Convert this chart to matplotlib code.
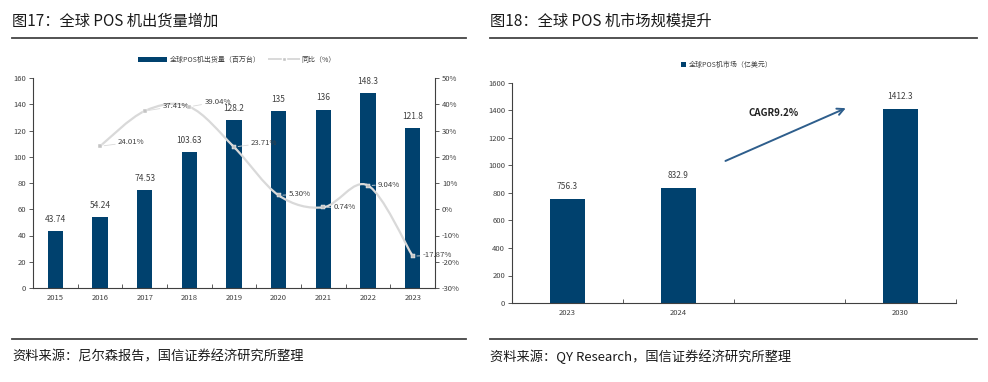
import numpy as np
import matplotlib
matplotlib.use("Agg")
import matplotlib.pyplot as plt
from matplotlib.path import Path
from matplotlib.patches import PathPatch, Patch
from matplotlib.lines import Line2D
from matplotlib.ticker import FuncFormatter

plt.rcParams['font.family'] = ['Noto Sans CJK SC', 'DejaVu Sans']
plt.rcParams['axes.unicode_minus'] = False

# ---- data: figure 17 ----
years17 = ['2015', '2016', '2017', '2018', '2019', '2020', '2021', '2022', '2023']
shipments = [43.74, 54.24, 74.53, 103.63, 128.2, 135, 136, 148.3, 121.8]
ship_labels = ['43.74', '54.24', '74.53', '103.63', '128.2', '135', '136', '148.3', '121.8']
yoy_years = ['2016', '2017', '2018', '2019', '2020', '2021', '2022', '2023']
yoy = [24.01, 37.41, 39.04, 23.71, 5.30, 0.74, 9.04, -17.87]

# ---- data: figure 18 ----
years18 = ['2023', '2024', '', '2030']
market = [756.3, 832.9, np.nan, 1412.3]
market_labels = ['756.3', '832.9', '', '1412.3']

NAVY = '#00416E'
GRAY_TXT = '#404040'
LINE_GRAY = '#D9D9D9'

W, H = 988, 382
fig = plt.figure(figsize=(W / 100, H / 100), dpi=100)


def px_axes(x0, y0, x1, y1):
    # pixel box (top-left origin) -> figure axes
    return fig.add_axes([x0 / W, 1 - y1 / H, (x1 - x0) / W, (y1 - y0) / H])


def style_axis(ax):
    for s in ['top', 'right']:
        ax.spines[s].set_visible(False)
    for s in ['left', 'bottom']:
        ax.spines[s].set_color('#404040')
        ax.spines[s].set_linewidth(0.8)
    ax.tick_params(axis='y', direction='out', length=3, width=0.6,
                   labelsize=5.5, colors='#404040', labelcolor=GRAY_TXT, pad=2)
    ax.tick_params(axis='x', which='major', length=0, labelsize=5.5,
                   labelcolor=GRAY_TXT, pad=4)
    ax.tick_params(axis='x', which='minor', direction='in', length=3, width=0.6,
                   colors='#404040')


def smooth_path(xs, ys, t=0.5):
    # catmull-rom style bezier through the points (drawing only)
    xs = np.asarray(xs, float)
    ys = np.asarray(ys, float)
    verts = [(xs[0], ys[0])]
    codes = [Path.MOVETO]
    n = len(xs)
    for i in range(n - 1):
        x0, y0 = (xs[i - 1], ys[i - 1]) if i > 0 else (xs[i], ys[i])
        x3, y3 = (xs[i + 2], ys[i + 2]) if i + 2 < n else (xs[i + 1], ys[i + 1])
        x1, y1 = xs[i], ys[i]
        x2, y2 = xs[i + 1], ys[i + 1]
        c1 = (x1 + (x2 - x0) * t / 3, y1 + (y2 - y0) * t / 3)
        c2 = (x2 - (x3 - x1) * t / 3, y2 - (y3 - y1) * t / 3)
        verts += [c1, c2, (x2, y2)]
        codes += [Path.CURVE4] * 3
    return Path(verts, codes)


# ================= figure 17 =================
fig.text(12 / W, 1 - 21 / H, '图17：全球 POS 机出货量增加', fontsize=11,
         color='#1a1a1a', va='center', ha='left')
fig.add_artist(Line2D([12 / W, 466 / W], [1 - 38 / H] * 2, color='#444444', lw=1.3))
fig.add_artist(Line2D([12 / W, 466 / W], [1 - 339 / H] * 2, color='#444444', lw=1.3))
fig.text(12 / W, 1 - 357 / H, '资料来源：尼尔森报告，国信证券经济研究所整理', fontsize=9.5,
         color='#1a1a1a', va='center', ha='left')

ax1 = px_axes(33, 78, 435, 288)
x17 = np.arange(len(years17))
ax1.bar(x17, shipments, width=0.34, color=NAVY, zorder=2)
for xi, v, lab in zip(x17, shipments, ship_labels):
    ax1.annotate(lab, (xi, v), xytext=(0, 7), textcoords='offset pixels',
                 ha='center', va='bottom', fontsize=6, color=GRAY_TXT)
ax1.set_xlim(-0.5, len(years17) - 0.5)
ax1.set_ylim(0, 160)
ax1.set_yticks(np.arange(0, 161, 20))
ax1.set_xticks(x17)
ax1.set_xticklabels(years17)
ax1.set_xticks(np.arange(-0.5, len(years17), 1), minor=True)
style_axis(ax1)

ax1r = ax1.twinx()
ax1r.set_ylim(-30, 50)
ax1r.set_yticks(np.arange(-30, 51, 10))
ax1r.yaxis.set_major_formatter(FuncFormatter(lambda v, p: f'{v:.0f}%'))
for s in ['top', 'left', 'bottom']:
    ax1r.spines[s].set_visible(False)
ax1r.spines['right'].set_color('#404040')
ax1r.spines['right'].set_linewidth(0.8)
ax1r.tick_params(axis='y', direction='out', length=3, width=0.6, labelsize=5.5,
                 colors='#404040', labelcolor=GRAY_TXT, pad=2)

xy = np.array([years17.index(y) for y in yoy_years])
ax1r.add_patch(PathPatch(smooth_path(xy, yoy), facecolor='none',
                         edgecolor=LINE_GRAY, lw=1.6, zorder=3))
ax1r.plot(xy, yoy, ls='none', marker='s', ms=3.5, color='#C4C4C4',
          markeredgecolor='white', markeredgewidth=0.3, zorder=4)
lab_off = [(18, 4), (18, 5), (15, 5), (17, 4), (10, 1), (10, 0), (10, 1), (10, 1)]
for xi, v, off in zip(xy, yoy, lab_off):
    ax1r.annotate(f'{v:.2f}%', (xi, v), xytext=off, textcoords='offset pixels',
                  ha='left', va='center', fontsize=5.6, color=GRAY_TXT,
                  arrowprops=dict(arrowstyle='-', color=LINE_GRAY, lw=0.6,
                                  shrinkA=0, shrinkB=3))

h_bar = Patch(facecolor=NAVY, edgecolor='none')
h_line = Line2D([], [], color=LINE_GRAY, lw=1.4, marker='s', ms=3,
                markerfacecolor='#C4C4C4', markeredgecolor='white')
fig.legend([h_bar, h_line], ['全球POS机出货量（百万台）', '同比（%）'],
           loc='center', bbox_to_anchor=(237 / W, 1 - 60 / H), ncol=2,
           frameon=False, fontsize=5, handlelength=4.2, handleheight=0.8,
           columnspacing=1.2, handletextpad=0.4, labelcolor=GRAY_TXT)

# ================= figure 18 =================
fig.text(490 / W, 1 - 21 / H, '图18：全球 POS 机市场规模提升', fontsize=11,
         color='#1a1a1a', va='center', ha='left')
fig.add_artist(Line2D([490 / W, 977 / W], [1 - 38 / H] * 2, color='#444444', lw=1.3))
fig.add_artist(Line2D([490 / W, 977 / W], [1 - 339 / H] * 2, color='#444444', lw=1.3))
fig.text(490 / W, 1 - 357 / H, '资料来源：QY Research，国信证券经济研究所整理', fontsize=9.5,
         color='#1a1a1a', va='center', ha='left')

ax2 = px_axes(512, 83, 956, 303)
x18 = np.arange(len(years18))
ax2.bar(x18, market, width=0.32, color=NAVY, zorder=2)
for xi, v, lab in zip(x18, market, market_labels):
    if lab:
        ax2.annotate(lab, (xi, v), xytext=(0, 8), textcoords='offset pixels',
                     ha='center', va='bottom', fontsize=6, color=GRAY_TXT)
ax2.set_xlim(-0.5, len(years18) - 0.5)
ax2.set_ylim(0, 1600)
ax2.set_yticks(np.arange(0, 1601, 200))
ax2.set_xticks(x18)
ax2.set_xticklabels(years18)
ax2.set_xticks(np.arange(-0.5, len(years18), 1), minor=True)
style_axis(ax2)

ax2.annotate('', xy=(2.53, 1425), xytext=(1.40, 1025),
             arrowprops=dict(arrowstyle='->', color='#2E5E8C', lw=1.4,
                             mutation_scale=12))
ax2.text(1.86, 1381, 'CAGR9.2%', fontsize=7, fontweight='bold', color='#222222',
         ha='center', va='center')

fig.legend([Patch(facecolor=NAVY, edgecolor='none')], ['全球POS机市场（亿美元）'],
           loc='center', bbox_to_anchor=(727 / W, 1 - 65 / H), frameon=False,
           fontsize=5, handlelength=0.8, handleheight=0.8, handletextpad=0.4,
           labelcolor=GRAY_TXT)

fig.savefig('out.png', dpi=100)
